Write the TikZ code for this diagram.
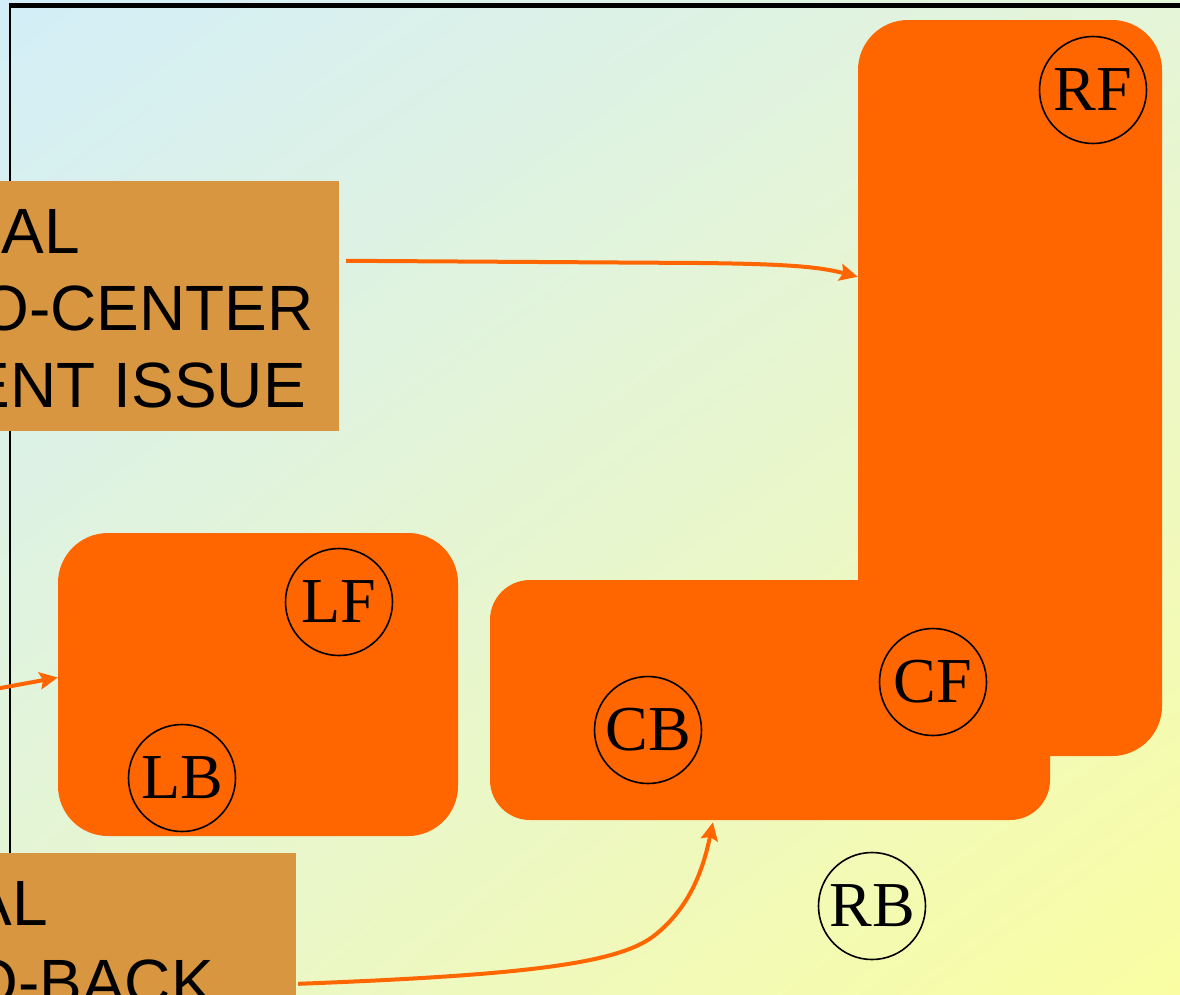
\documentclass[tikz,border=0pt]{standalone}
\usepackage{fontspec}
\setmainfont{Liberation Serif}
\newfontfamily\labelsans{Liberation Sans}
\usetikzlibrary{arrows.meta,calc,shadings}

\definecolor{bgUL}{HTML}{D3EEF8}
\definecolor{bgUR}{HTML}{E5F5D8}
\definecolor{bgLL}{HTML}{E7F6D0}
\definecolor{bgLR}{HTML}{FAFDA2}
\definecolor{blockorange}{HTML}{FF6600}
\definecolor{issuetan}{HTML}{D99640}

\begin{document}
\begin{tikzpicture}[x=1pt,y=-1pt,
  block/.style={rectangle, fill=blockorange, draw=none, inner sep=0pt},
  issue/.style={rectangle, fill=issuetan, draw=none, inner sep=0pt},
  frag/.style={anchor=base east, inner sep=0pt, text=black,
               font=\labelsans\fontsize{64}{64}\selectfont},
  wheel/.style={circle, draw=black, line width=1.6pt, minimum size=107pt,
                inner sep=0pt, font=\fontsize{64}{64}\selectfont},
  link/.style={draw=blockorange, line width=4pt,
               -{Stealth[length=18pt,width=17pt,inset=3pt]}}
]
\useasboundingbox (0,0) rectangle (1180,994);

% background
\shade[upper left=bgUL, upper right=bgUR, lower left=bgLL, lower right=bgLR]
  (0,0) rectangle (1180,994);

% frame
\draw[line width=5pt] (9,5.5) -- (1190,5.5);
\draw[line width=2.5pt] (10,4) -- (10,860);

% issue boxes and their text
\node[issue, minimum width=420pt, minimum height=250pt] (issueA) at (129,306) {};
\node[issue, minimum width=376pt, minimum height=220pt] (issueB) at (108,963) {};

\node[frag] (a1) at (80,253) {AL};
\node[frag] (a2) at (314,330) {O-CENTER};
\node[frag] (a3) at (306,407) {ENT ISSUE};
\node[frag] (b1) at (48,925) {AL};
\node[frag] (b2) at (214,1004) {O-BACK};

% orange blocks
\node[block, rounded corners=50pt, minimum width=304pt, minimum height=736pt] (rfbox) at (1010,388) {};
\node[block, rounded corners=40pt, minimum width=560pt, minimum height=240pt] (cbox) at (770,700) {};
\node[block, rounded corners=50pt, minimum width=400pt, minimum height=303pt] (lbox) at (258,684.5) {};

% wheels
\node[wheel] (rf) at (1093,90) {RF};
\node[wheel] (lf) at (339,602) {LF};
\node[wheel] (lb) at (182,778) {LB};
\node[wheel] (cb) at (648,730) {CB};
\node[wheel] (cf) at (933,682) {CF};
\node[wheel] (rb) at (872,906) {RB};

% connectors
\coordinate (offleft) at (-5,689);
\draw[link] ($(issueA.north east)+(7,80)$) -- (700,263)
  .. controls (790,264) and (820,267) .. ($(rfbox.north west)+(0,257)$);
\draw[link] (offleft) -- ([yshift=7pt]lbox.west);
\draw[link] ($(issueB.north east)+(2,131)$)
  .. controls (530,975) and (620,963) .. (655,935)
  .. controls (690,907) and (703,870) .. ($(cbox.south)+(-57,2)$);
\end{tikzpicture}
\end{document}
